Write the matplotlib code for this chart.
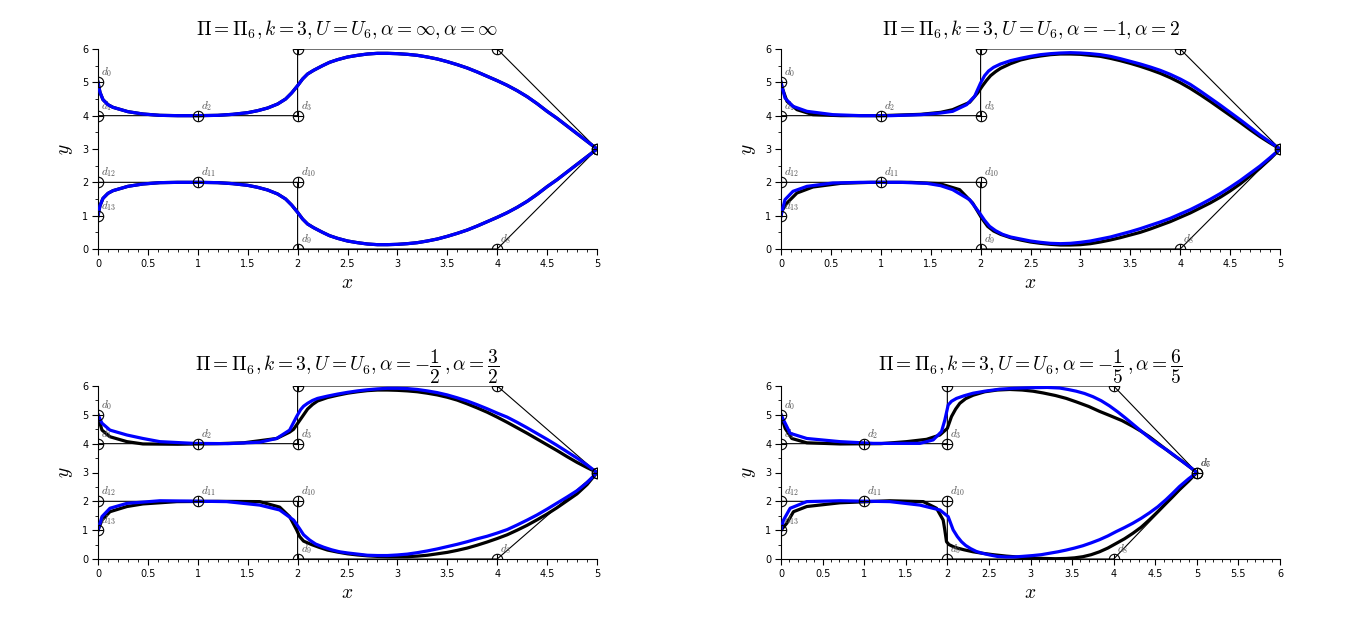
import numpy as np
import matplotlib
matplotlib.use("Agg")
import matplotlib.pyplot as plt
from matplotlib.ticker import MultipleLocator

plt.rcParams['mathtext.fontset'] = 'cm'
plt.rcParams['font.family'] = ['DejaVu Sans']

# control polygon d0..d13
ctrl_x = [0, 0, 1, 2, 2, 4, 5, 5, 4, 2, 2, 1, 0, 0]
ctrl_y = [5, 4, 4, 4, 6, 6, 3, 3, 0, 0, 2, 2, 2, 1]

titles = [r"$\Pi=\Pi_6, k=3, U=U_6, \alpha=\infty, \alpha=\infty$",
          r"$\Pi=\Pi_6, k=3, U=U_6, \alpha=-1, \alpha=2$",
          r"$\Pi=\Pi_6, k=3, U=U_6, \alpha=-\dfrac{1}{2}\,, \alpha=\dfrac{3}{2}$",
          r"$\Pi=\Pi_6, k=3, U=U_6, \alpha=-\dfrac{1}{5}\,, \alpha=\dfrac{6}{5}$"]
x_max = [5, 5, 5, 6]

# curves (x, y), from d0 round to d13
blue_1 = [(0, 5.0), (0.02, 4.7), (0.05, 4.48), (0.1, 4.33), (0.15, 4.25), (0.3, 4.12),
          (0.45, 4.05), (0.62, 4.01), (0.8, 4.0), (1.0, 4.0), (1.2, 4.01), (1.35, 4.04),
          (1.5, 4.09), (1.6, 4.15), (1.7, 4.23), (1.8, 4.35), (1.88, 4.5), (1.94, 4.68),
          (2.0, 4.9), (2.05, 5.1), (2.1, 5.25), (2.16, 5.36), (2.25, 5.5), (2.32, 5.6),
          (2.4, 5.68), (2.5, 5.76), (2.6, 5.81), (2.7, 5.85), (2.8, 5.87), (2.9, 5.87),
          (3.0, 5.86), (3.1, 5.84), (3.2, 5.81), (3.3, 5.76), (3.4, 5.7), (3.5, 5.62),
          (3.6, 5.53), (3.7, 5.43), (3.8, 5.31), (3.9, 5.18), (4.0, 5.05), (4.1, 4.91),
          (4.2, 4.75), (4.3, 4.57), (4.4, 4.36), (4.5, 4.13), (4.6, 3.92), (4.7, 3.69),
          (4.8, 3.46), (4.9, 3.23), (5, 3),
          (4.9, 2.77), (4.8, 2.54), (4.7, 2.31), (4.6, 2.08), (4.5, 1.87), (4.4, 1.64),
          (4.3, 1.43), (4.2, 1.25), (4.1, 1.09), (4.0, 0.95), (3.9, 0.82), (3.8, 0.69),
          (3.7, 0.57), (3.6, 0.47), (3.5, 0.38), (3.4, 0.3), (3.3, 0.24), (3.2, 0.19),
          (3.1, 0.16), (3.0, 0.14), (2.9, 0.13), (2.8, 0.13), (2.7, 0.15), (2.6, 0.19),
          (2.5, 0.24), (2.4, 0.32), (2.32, 0.4), (2.25, 0.5), (2.16, 0.64), (2.1, 0.75),
          (2.05, 0.9), (2.0, 1.1), (1.94, 1.32), (1.88, 1.5), (1.8, 1.65),
          (1.7, 1.77), (1.6, 1.85), (1.5, 1.91), (1.35, 1.96), (1.2, 1.99), (1.0, 2.0),
          (0.8, 2.0), (0.62, 1.99), (0.45, 1.95), (0.3, 1.88), (0.15, 1.75), (0.1, 1.67),
          (0.05, 1.52), (0.02, 1.3), (0, 1.0)]
black_1 = blue_1

blue_2 = [(0, 5.0), (0.04, 4.53), (0.12, 4.28), (0.26, 4.13), (0.52, 4.03), (0.8, 4.0),
          (1.1, 4.0), (1.4, 4.03), (1.6, 4.08), (1.72, 4.13), (1.86, 4.33), (1.94, 4.58),
          (2.0, 4.98), (2.04, 5.2), (2.08, 5.34), (2.13, 5.45), (2.2, 5.55), (2.3, 5.65),
          (2.4, 5.72), (2.5, 5.78), (2.6, 5.83), (2.7, 5.86), (2.8, 5.88), (2.9, 5.89),
          (3.0, 5.88), (3.1, 5.86), (3.2, 5.83), (3.3, 5.78), (3.4, 5.71), (3.5, 5.63),
          (3.6, 5.55), (3.7, 5.46), (3.8, 5.36), (3.9, 5.24), (4.0, 5.1), (4.1, 4.94),
          (4.2, 4.74), (4.3, 4.53), (4.4, 4.32), (4.5, 4.1), (4.6, 3.88), (4.7, 3.65),
          (4.8, 3.42), (4.9, 3.21), (5, 3),
          (4.9, 2.74), (4.8, 2.49), (4.7, 2.27), (4.6, 2.05), (4.5, 1.85), (4.4, 1.66),
          (4.3, 1.49), (4.2, 1.33), (4.1, 1.18), (4.0, 1.05), (3.9, 0.92), (3.8, 0.81),
          (3.7, 0.71), (3.6, 0.61), (3.5, 0.52), (3.4, 0.44), (3.3, 0.36), (3.2, 0.3),
          (3.1, 0.24), (3.0, 0.2), (2.9, 0.17), (2.8, 0.16), (2.7, 0.17), (2.6, 0.2),
          (2.5, 0.24), (2.4, 0.3), (2.3, 0.36), (2.22, 0.44), (2.15, 0.55), (2.09, 0.68),
          (2.04, 0.86), (1.99, 1.08), (1.89, 1.48), (1.72, 1.78), (1.6, 1.9), (1.46, 1.97),
          (1.2, 2.0), (0.8, 2.0), (0.52, 1.98), (0.26, 1.88), (0.12, 1.73), (0.04, 1.48),
          (0, 1.0)]
black_2 = [(0, 5.0), (0.01, 4.85), (0.06, 4.43), (0.16, 4.18), (0.32, 4.03), (0.6, 4.0),
           (1.0, 4.0), (1.4, 4.04), (1.6, 4.1), (1.72, 4.18), (1.89, 4.4), (1.97, 4.68),
           (2.02, 4.9), (2.06, 5.06), (2.1, 5.2), (2.15, 5.32), (2.2, 5.42), (2.3, 5.56),
           (2.4, 5.67), (2.5, 5.74), (2.6, 5.79), (2.7, 5.83), (2.8, 5.85), (2.9, 5.85),
           (3.0, 5.84), (3.1, 5.81), (3.2, 5.78), (3.3, 5.72), (3.4, 5.65), (3.5, 5.57),
           (3.6, 5.48), (3.7, 5.38), (3.8, 5.27), (3.9, 5.14), (4.0, 4.99), (4.1, 4.82),
           (4.2, 4.63), (4.3, 4.43), (4.4, 4.22), (4.5, 4.01), (4.6, 3.8), (4.7, 3.58),
           (4.8, 3.37), (4.9, 3.18), (5, 3),
           (4.9, 2.7), (4.8, 2.43), (4.7, 2.19), (4.6, 1.95), (4.5, 1.74), (4.4, 1.55),
           (4.3, 1.38), (4.2, 1.23), (4.1, 1.08), (4.0, 0.95), (3.9, 0.82), (3.8, 0.71),
           (3.7, 0.6), (3.6, 0.5), (3.5, 0.42), (3.4, 0.34), (3.3, 0.27), (3.2, 0.21),
           (3.1, 0.16), (3.0, 0.13), (2.9, 0.12), (2.8, 0.12), (2.7, 0.14), (2.6, 0.17),
           (2.5, 0.21), (2.4, 0.27), (2.3, 0.34), (2.2, 0.44), (2.13, 0.54), (2.07, 0.68),
           (2.01, 0.93), (1.92, 1.38), (1.79, 1.78), (1.59, 1.96), (1.3, 2.0), (0.9, 2.0),
           (0.6, 1.97), (0.32, 1.86), (0.16, 1.68), (0.06, 1.38), (0.01, 1.15), (0, 1.0)]

blue_3 = [(0, 5.0), (0.04, 4.71), (0.12, 4.47), (0.29, 4.3), (0.45, 4.18), (0.62, 4.07),
          (0.96, 4.01), (1.3, 4.0), (1.62, 4.05), (1.79, 4.18), (1.92, 4.47), (1.99, 4.94),
          (2.03, 5.18), (2.06, 5.3), (2.1, 5.4), (2.15, 5.5), (2.2, 5.57), (2.3, 5.65),
          (2.4, 5.72), (2.5, 5.78), (2.6, 5.83), (2.7, 5.87), (2.8, 5.9), (2.9, 5.92),
          (3.0, 5.92), (3.1, 5.91), (3.2, 5.88), (3.3, 5.83), (3.4, 5.77), (3.5, 5.69),
          (3.6, 5.59), (3.7, 5.48), (3.8, 5.35), (3.9, 5.21), (4.0, 5.06), (4.1, 4.92),
          (4.2, 4.74), (4.3, 4.55), (4.4, 4.35), (4.5, 4.15), (4.6, 3.94), (4.7, 3.72),
          (4.8, 3.5), (4.9, 3.26), (5, 3),
          (4.9, 2.65), (4.8, 2.37), (4.7, 2.15), (4.6, 1.94), (4.5, 1.73), (4.4, 1.53),
          (4.3, 1.35), (4.2, 1.18), (4.1, 1.02), (4.0, 0.9), (3.9, 0.79), (3.8, 0.7),
          (3.7, 0.6), (3.6, 0.51), (3.5, 0.43), (3.4, 0.35), (3.3, 0.28), (3.2, 0.22),
          (3.1, 0.17), (3.0, 0.14), (2.9, 0.12), (2.8, 0.12), (2.7, 0.13), (2.6, 0.17),
          (2.5, 0.21), (2.42, 0.25), (2.34, 0.32), (2.26, 0.41), (2.18, 0.52), (2.12, 0.66),
          (2.06, 0.84), (2.02, 1.05), (1.96, 1.35), (1.82, 1.7), (1.62, 1.87), (1.29, 1.99),
          (0.9, 2.01), (0.62, 2.02), (0.29, 1.93), (0.12, 1.76), (0.04, 1.47), (0, 1.0)]
black_3 = [(0, 5.0), (0.005, 4.88), (0.04, 4.47), (0.12, 4.24), (0.29, 4.07), (0.45, 3.99),
           (0.8, 3.98), (1.2, 4.0), (1.46, 4.03), (1.79, 4.18), (1.92, 4.4), (1.96, 4.5),
           (2.02, 4.8), (2.06, 5.0), (2.1, 5.2), (2.15, 5.36), (2.2, 5.48), (2.3, 5.6),
           (2.4, 5.68), (2.5, 5.75), (2.6, 5.8), (2.7, 5.84), (2.8, 5.86), (2.9, 5.86),
           (3.0, 5.85), (3.1, 5.83), (3.2, 5.8), (3.3, 5.75), (3.4, 5.69), (3.5, 5.61),
           (3.6, 5.51), (3.7, 5.38), (3.8, 5.24), (3.9, 5.09), (4.0, 4.92), (4.1, 4.74),
           (4.2, 4.55), (4.3, 4.36), (4.4, 4.16), (4.5, 3.96), (4.6, 3.76), (4.7, 3.55),
           (4.8, 3.35), (4.9, 3.17), (5, 3),
           (4.9, 2.58), (4.8, 2.26), (4.7, 2.02), (4.6, 1.78), (4.5, 1.56), (4.4, 1.36),
           (4.3, 1.17), (4.2, 1.0), (4.1, 0.84), (4.0, 0.71), (3.9, 0.59), (3.8, 0.48),
           (3.7, 0.38), (3.6, 0.3), (3.5, 0.23), (3.4, 0.18), (3.3, 0.13), (3.2, 0.1),
           (3.1, 0.08), (3.0, 0.08), (2.9, 0.08), (2.8, 0.09), (2.7, 0.11), (2.6, 0.14),
           (2.5, 0.18), (2.4, 0.24), (2.3, 0.31), (2.22, 0.4), (2.14, 0.5), (2.06, 0.62),
           (2.02, 0.78), (1.99, 1.01), (1.92, 1.47), (1.82, 1.8), (1.62, 1.99), (1.2, 2.0),
           (0.79, 1.99), (0.45, 1.91), (0.29, 1.82), (0.12, 1.64), (0.04, 1.35), (0, 1.0)]

blue_4 = [(0, 5.0), (0.05, 4.71), (0.11, 4.36), (0.31, 4.18), (0.71, 4.07), (1.11, 4.01),
          (1.67, 4.01), (1.83, 4.13), (1.93, 4.42), (1.97, 4.82), (2.01, 5.34), (2.05, 5.47),
          (2.11, 5.57), (2.2, 5.66), (2.31, 5.75), (2.45, 5.82), (2.63, 5.89), (2.8, 5.92),
          (3.0, 5.94), (3.2, 5.95), (3.35, 5.93), (3.45, 5.88), (3.55, 5.82), (3.65, 5.74),
          (3.75, 5.63), (3.85, 5.49), (3.95, 5.31), (4.05, 5.1), (4.15, 4.87), (4.25, 4.63),
          (4.35, 4.39), (4.45, 4.16), (4.55, 3.95), (4.65, 3.76), (4.75, 3.55), (4.85, 3.33),
          (4.93, 3.16), (5, 3),
          (4.9, 2.78), (4.79, 2.51), (4.71, 2.28), (4.63, 2.06), (4.53, 1.81), (4.43, 1.6),
          (4.33, 1.41), (4.23, 1.24), (4.13, 1.09), (4.03, 0.95), (3.93, 0.8), (3.83, 0.67),
          (3.73, 0.56), (3.63, 0.46), (3.53, 0.38), (3.43, 0.31), (3.33, 0.25), (3.23, 0.2),
          (3.13, 0.15), (3.03, 0.12), (2.9, 0.09), (2.8, 0.07), (2.71, 0.07), (2.6, 0.09),
          (2.51, 0.14), (2.42, 0.2), (2.35, 0.26), (2.28, 0.36), (2.22, 0.47), (2.17, 0.6),
          (2.12, 0.78), (2.07, 1.01), (2.01, 1.47), (1.91, 1.7), (1.67, 1.87), (1.31, 1.99),
          (0.71, 2.02), (0.31, 1.99), (0.11, 1.76), (0.03, 1.35), (0, 1.0)]
black_4 = [(0, 5.0), (0.005, 4.94), (0.05, 4.53), (0.13, 4.18), (0.31, 4.03), (0.71, 3.99),
           (1.2, 4.0), (1.51, 4.07), (1.75, 4.15), (1.91, 4.3), (2.0, 4.53), (2.05, 4.94),
           (2.1, 5.2), (2.15, 5.4), (2.22, 5.56), (2.31, 5.68), (2.45, 5.8), (2.6, 5.86),
           (2.75, 5.88), (2.9, 5.86), (3.03, 5.82), (3.15, 5.76), (3.3, 5.67), (3.43, 5.57),
           (3.55, 5.45), (3.7, 5.29), (3.83, 5.12), (3.95, 4.98), (4.1, 4.8), (4.23, 4.6),
           (4.33, 4.43), (4.43, 4.24), (4.53, 4.02), (4.63, 3.8), (4.73, 3.58), (4.83, 3.38),
           (4.92, 3.18), (5, 3),
           (4.9, 2.7), (4.79, 2.4), (4.71, 2.16), (4.63, 1.93), (4.53, 1.64), (4.43, 1.36),
           (4.33, 1.1), (4.23, 0.89), (4.13, 0.7), (4.03, 0.54), (3.93, 0.38), (3.83, 0.25),
           (3.73, 0.15), (3.63, 0.08), (3.53, 0.04), (3.43, 0.02), (3.3, 0.01), (3.15, 0.02),
           (3.03, 0.03), (2.9, 0.05), (2.8, 0.08), (2.71, 0.1), (2.55, 0.15), (2.42, 0.2),
           (2.31, 0.25), (2.2, 0.32), (2.12, 0.38), (2.07, 0.43), (2.02, 0.5), (1.99, 0.6),
           (1.97, 1.0), (1.95, 1.35), (1.87, 1.76), (1.71, 1.99), (1.31, 2.02), (0.71, 1.95),
           (0.31, 1.82), (0.15, 1.64), (0.07, 1.24), (0, 1.0)]

blue_curves = [blue_1, blue_2, blue_3, blue_4]
black_curves = [black_1, black_2, black_3, black_4]

fig = plt.figure(figsize=(13.66, 6.2), dpi=100)
W, H = 1366, 620
boxes = [(98, 49, 597, 249), (781, 49, 1280, 249),
         (98, 386, 597, 559), (781, 386, 1280, 559)]

for i in range(4):
    x0, y0, x1, y1 = boxes[i]
    ax = fig.add_axes([x0 / W, 1 - y1 / H, (x1 - x0) / W, (y1 - y0) / H])
    ax.set_xlim(0, x_max[i])
    ax.set_ylim(0, 6)

    # control polygon
    ax.plot(ctrl_x, ctrl_y, color='black', lw=0.8, zorder=2)

    bk = np.array(black_curves[i])
    bl = np.array(blue_curves[i])
    ax.plot(bk[:, 0], bk[:, 1], color='black', lw=2.3, zorder=3,
            solid_joinstyle='round')
    ax.plot(bl[:, 0], bl[:, 1], color='#0000ff', lw=2.3, zorder=4,
            solid_joinstyle='round')

    ax.plot(ctrl_x, ctrl_y, 'o', ms=7.5, mfc='none', mec='black', mew=0.8, zorder=5)
    ax.plot(ctrl_x, ctrl_y, '+', ms=7.5, mec='black', mew=0.8, zorder=5)
    for j in range(len(ctrl_x)):
        # labels above the top edge or right of the x range are cut off
        if ctrl_y[j] >= 6 or ctrl_x[j] >= x_max[i]:
            continue
        ax.annotate(r"$d_{%d}$" % j, (ctrl_x[j], ctrl_y[j]), xytext=(3, 3),
                    textcoords='offset pixels', fontsize=8, color='#555555',
                    ha='left', va='bottom')

    for s in ['top', 'right']:
        ax.spines[s].set_visible(False)
    ax.xaxis.set_major_locator(MultipleLocator(0.5))
    ax.xaxis.set_minor_locator(MultipleLocator(0.1))
    ax.yaxis.set_major_locator(MultipleLocator(1))
    ax.yaxis.set_minor_locator(MultipleLocator(0.5))
    ax.xaxis.set_major_formatter(plt.FuncFormatter(lambda v, p: "%g" % v))
    ax.tick_params(which='major', length=4, width=0.8, labelsize=7, pad=3)
    ax.tick_params(which='minor', length=2, width=0.6)
    ax.set_xlabel(r"$x$", fontsize=14, labelpad=3)
    ax.set_ylabel(r"$y$", fontsize=14, labelpad=5)
    ax.set_title(titles[i], fontsize=14, pad=10)

fig.savefig("out.png", dpi=100)
